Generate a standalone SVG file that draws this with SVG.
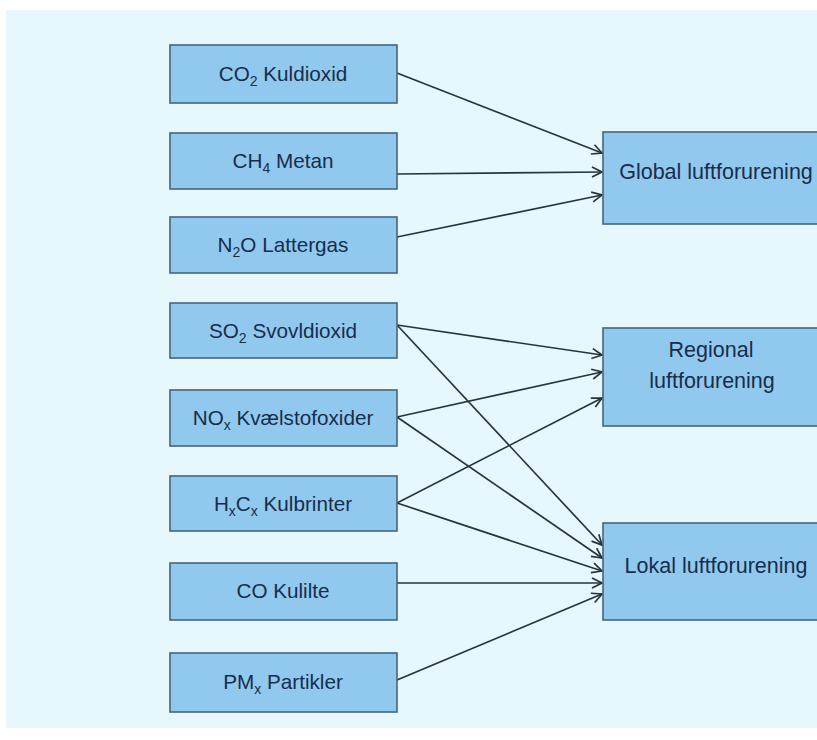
<svg xmlns="http://www.w3.org/2000/svg" width="817" height="740" viewBox="0 0 817 740">
<defs>
<style>
.box{fill:#91c9ee;stroke:#46647f;stroke-width:1.6}
.t{font-family:"Liberation Sans",Arial,sans-serif;font-size:20.7px;fill:#172d4c;text-anchor:middle}
.tr{font-family:"Liberation Sans",Arial,sans-serif;font-size:21.5px;fill:#172d4c;text-anchor:middle}
.c{stroke:#27343f;stroke-width:1.7;fill:none;marker-end:url(#ah)}
</style>
<marker id="ah" viewBox="0 0 12 12" refX="11" refY="6" markerWidth="12" markerHeight="12" markerUnits="userSpaceOnUse" orient="auto">
<path d="M1,1 L11,6 L1,11" fill="none" stroke="#27343f" stroke-width="1.7"/>
</marker>
</defs>
<rect x="0" y="0" width="817" height="740" fill="#ffffff"/>
<rect x="6" y="10" width="811" height="718" fill="#e6f8fb"/>

<g id="connectors">
<line class="c" x1="397" y1="73" x2="602" y2="153"/>
<line class="c" x1="397" y1="174" x2="602" y2="172"/>
<line class="c" x1="397" y1="237" x2="602" y2="195"/>
<line class="c" x1="397" y1="325" x2="602" y2="355"/>
<line class="c" x1="397" y1="417" x2="602" y2="372"/>
<line class="c" x1="397" y1="503" x2="602" y2="398"/>
<line class="c" x1="397" y1="325" x2="602" y2="545"/>
<line class="c" x1="397" y1="417" x2="602" y2="558"/>
<line class="c" x1="397" y1="503" x2="602" y2="571"/>
<line class="c" x1="397" y1="583" x2="602" y2="583"/>
<line class="c" x1="397" y1="680" x2="602" y2="594"/>
</g>

<g id="co2"><rect class="box" x="170" y="45" width="227" height="58"/>
<text class="t" x="283" y="81">CO<tspan font-size="14" dy="5">2</tspan><tspan dy="-5"> Kuldioxid</tspan></text></g>
<g id="ch4"><rect class="box" x="170" y="133" width="227" height="56"/>
<text class="t" x="283" y="168">CH<tspan font-size="14" dy="5">4</tspan><tspan dy="-5"> Metan</tspan></text></g>
<g id="n2o"><rect class="box" x="170" y="217" width="227" height="56"/>
<text class="t" x="283" y="252">N<tspan font-size="14" dy="5">2</tspan><tspan dy="-5">O Lattergas</tspan></text></g>
<g id="so2"><rect class="box" x="170" y="303" width="227" height="55"/>
<text class="t" x="283" y="338">SO<tspan font-size="14" dy="5">2</tspan><tspan dy="-5"> Svovldioxid</tspan></text></g>
<g id="nox"><rect class="box" x="170" y="390" width="227" height="56"/>
<text class="t" x="283" y="425">NO<tspan font-size="14" dy="5">x</tspan><tspan dy="-5"> Kvælstofoxider</tspan></text></g>
<g id="hxcx"><rect class="box" x="170" y="476" width="227" height="55"/>
<text class="t" x="283" y="511">H<tspan font-size="14" dy="5">x</tspan><tspan dy="-5">C</tspan><tspan font-size="14" dy="5">x</tspan><tspan dy="-5"> Kulbrinter</tspan></text></g>
<g id="co"><rect class="box" x="170" y="563" width="227" height="57"/>
<text class="t" x="283" y="598">CO Kulilte</text></g>
<g id="pmx"><rect class="box" x="170" y="653" width="227" height="59"/>
<text class="t" x="283" y="689">PM<tspan font-size="14" dy="5">x</tspan><tspan dy="-5"> Partikler</tspan></text></g>

<g id="global"><rect class="box" x="603" y="132" width="230" height="92"/>
<text class="tr" x="716" y="179">Global luftforurening</text></g>
<g id="regional"><rect class="box" x="603" y="328" width="230" height="98"/>
<text class="tr" x="711" y="357">Regional</text>
<text class="tr" x="712" y="388">luftforurening</text></g>
<g id="lokal"><rect class="box" x="603" y="523" width="230" height="97"/>
<text class="tr" x="716" y="573">Lokal luftforurening</text></g>
</svg>
